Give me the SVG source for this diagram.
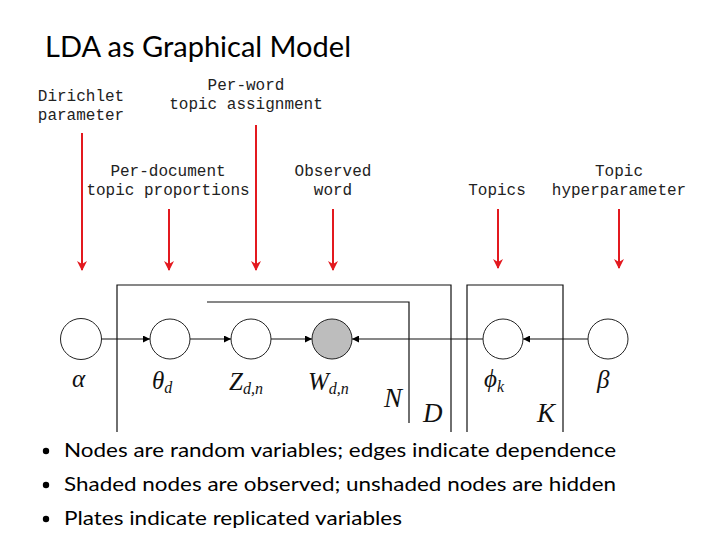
<svg xmlns="http://www.w3.org/2000/svg" width="720" height="540" viewBox="0 0 720 540">
<defs>
<marker id="ah" viewBox="0 0 10 10" refX="10" refY="5" markerWidth="7" markerHeight="7" markerUnits="userSpaceOnUse" orient="auto">
<path d="M0,0 L10,5 L0,10 z" fill="#000"/>
</marker>
<marker id="rh" viewBox="0 0 10 10" refX="9" refY="5" markerWidth="10" markerHeight="12" markerUnits="userSpaceOnUse" orient="auto">
<path d="M0,0 L10,5 L0,10 L3,5 z" fill="#e3191f"/>
</marker>
<style>
.lbl{font-family:"Liberation Mono","DejaVu Sans Mono",monospace;font-size:16px;fill:#222;text-anchor:middle}
.node{fill:#fff;stroke:#222;stroke-width:1}
.obs{fill:#bdbdbd;stroke:#222;stroke-width:1}
.plate{fill:none;stroke:#111;stroke-width:1.2}
.edge{fill:none;stroke:#111;stroke-width:1.2;marker-end:url(#ah)}
.red{fill:none;stroke:#e3191f;stroke-width:2;marker-end:url(#rh)}
.math{font-family:"Liberation Serif","DejaVu Serif",serif;font-style:italic;font-size:25px;fill:#111}
.sub{font-size:16px}
.pl{font-family:"Liberation Serif","DejaVu Serif",serif;font-style:italic;font-size:27px;fill:#111}
.body{font-family:Lato,"Open Sans",sans-serif;font-size:20px;fill:#000}
</style>
</defs>
<rect width="720" height="540" fill="#fff"/>
<text x="45" y="57" font-family="Lato,'Open Sans',sans-serif" font-size="28" fill="#000" textLength="306" lengthAdjust="spacingAndGlyphs">LDA as Graphical Model</text>

<g id="labels">
<text class="lbl" x="81" y="101">Dirichlet</text>
<text class="lbl" x="81" y="120">parameter</text>
<text class="lbl" x="246" y="90">Per-word</text>
<text class="lbl" x="246" y="109">topic assignment</text>
<text class="lbl" x="168" y="176">Per-document</text>
<text class="lbl" x="168" y="195">topic proportions</text>
<text class="lbl" x="333" y="176">Observed</text>
<text class="lbl" x="333" y="195">word</text>
<text class="lbl" x="497" y="195">Topics</text>
<text class="lbl" x="619" y="176">Topic</text>
<text class="lbl" x="619" y="195">hyperparameter</text>
</g>

<g id="pointers">
<line class="red" x1="82" y1="133" x2="82" y2="270"/>
<line class="red" x1="169" y1="209" x2="169" y2="270"/>
<line class="red" x1="256" y1="125" x2="256" y2="270"/>
<line class="red" x1="333" y1="209" x2="333" y2="270"/>
<line class="red" x1="498" y1="209" x2="498" y2="268"/>
<line class="red" x1="619" y1="209" x2="619" y2="268"/>
</g>

<g id="plates">
<path class="plate" d="M117,432 V285 H451 V432"/>
<path class="plate" d="M207,302 H409 V423"/>
<path class="plate" d="M467,432 V285 H563 V432"/>
<text class="pl" x="384" y="407">N</text>
<text class="pl" x="423" y="422">D</text>
<text class="pl" x="537" y="422">K</text>
</g>

<g id="connectors">
<line class="edge" x1="101" y1="339" x2="150" y2="339"/>
<line class="edge" x1="190" y1="339" x2="231" y2="339"/>
<line class="edge" x1="271" y1="339" x2="312" y2="339"/>
<line class="edge" x1="483" y1="339" x2="352" y2="339"/>
<line class="edge" x1="588" y1="339" x2="523" y2="339"/>
</g>

<g id="alpha">
<circle class="node" cx="81" cy="339" r="20.5"/>
<text class="math" x="72" y="387">α</text>
</g>
<g id="theta">
<circle class="node" cx="170" cy="339" r="20"/>
<text class="math" x="152" y="389">θ<tspan class="sub" dy="4">d</tspan></text>
</g>
<g id="z">
<circle class="node" cx="251" cy="339" r="20"/>
<text class="math" x="229" y="390">Z<tspan class="sub" dy="4">d,n</tspan></text>
</g>
<g id="w">
<circle class="obs" cx="332" cy="339" r="20"/>
<text class="math" x="308" y="390">W<tspan class="sub" dy="4">d,n</tspan></text>
</g>
<g id="phi">
<circle class="node" cx="503" cy="339" r="20"/>
<text class="math" x="484" y="387" font-size="29">ϕ<tspan class="sub" dy="5">k</tspan></text>
</g>
<g id="beta">
<circle class="node" cx="608" cy="339" r="20"/>
<text class="math" x="597" y="388" font-size="26">β</text>
</g>

<g id="bullets">
<circle cx="46" cy="451" r="3.2" fill="#000"/>
<circle cx="46" cy="485" r="3.2" fill="#000"/>
<circle cx="46" cy="519" r="3.2" fill="#000"/>
<text class="body" x="64" y="457" textLength="552" lengthAdjust="spacingAndGlyphs">Nodes are random variables; edges indicate dependence</text>
<text class="body" x="64" y="491" textLength="552" lengthAdjust="spacingAndGlyphs">Shaded nodes are observed; unshaded nodes are hidden</text>
<text class="body" x="64" y="525" textLength="338" lengthAdjust="spacingAndGlyphs">Plates indicate replicated variables</text>
</g>
</svg>
